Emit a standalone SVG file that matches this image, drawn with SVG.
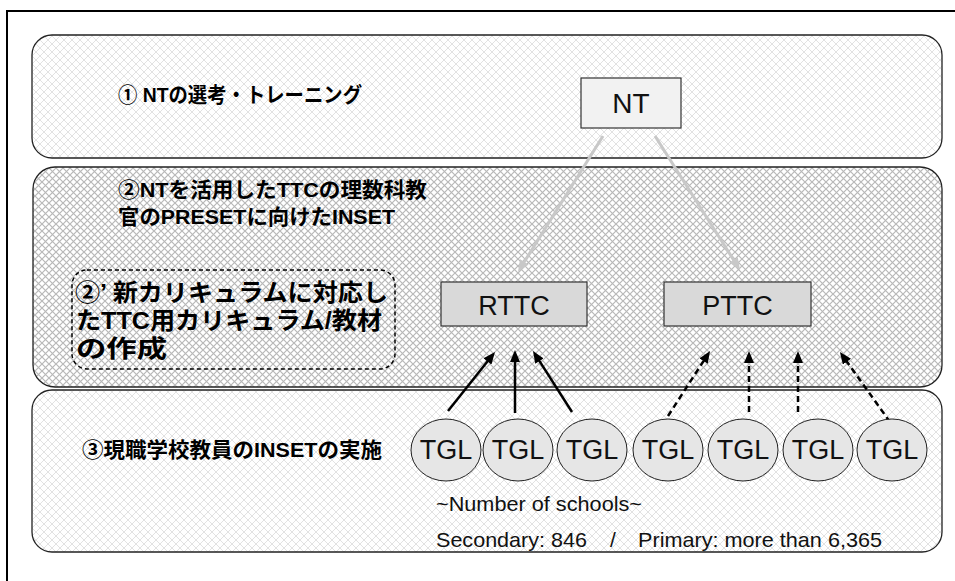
<svg xmlns="http://www.w3.org/2000/svg" width="955" height="581" viewBox="0 0 955 581">
<style>
.band{stroke:#222;stroke-width:1.3}
.jp{font-family:"Liberation Sans","Noto Sans CJK JP",sans-serif;font-weight:bold;fill:#000}
.lat{font-family:"Liberation Sans",Arial,sans-serif;fill:#111}
.rect{stroke:#333;stroke-width:1.2}
.tgl{fill:#e6e6e6;stroke:#222;stroke-width:1}
.solid{stroke:#000;stroke-width:2.5;fill:none;marker-end:url(#ab)}
.dash{stroke:#000;stroke-width:2.5;fill:none;stroke-dasharray:6 4;marker-end:url(#ab)}
.gray{stroke:#c8c8c8;stroke-width:3;fill:none;marker-end:url(#ag)}
</style>
<defs>
<pattern id="lt" width="8" height="8" patternUnits="userSpaceOnUse">
<rect width="8" height="8" fill="#fff"/>
<path d="M0,0 L8,8 M8,0 L0,8" stroke="#e2e2e2" stroke-width="1"/>
</pattern>
<pattern id="dk" width="7" height="7" patternUnits="userSpaceOnUse">
<rect width="7" height="7" fill="#fff"/>
<path d="M0,0 L7,7 M7,0 L0,7" stroke="#b8b8b8" stroke-width="1.2"/>
</pattern>
<marker id="ab" markerWidth="12" markerHeight="10" refX="4" refY="5" orient="auto" markerUnits="userSpaceOnUse">
<path d="M0,0 L12,5 L0,10 z" fill="#000"/>
</marker>
<marker id="ag" markerWidth="12" markerHeight="10" refX="4" refY="5" orient="auto" markerUnits="userSpaceOnUse">
<path d="M0,0 L12,5 L0,10 z" fill="#c8c8c8"/>
</marker>
</defs>
<rect width="955" height="581" fill="#fff"/>
<path d="M7,581 L7,11 L955,11" fill="none" stroke="#000" stroke-width="2"/>

<g id="band1">
<rect class="band" x="32" y="35" width="910" height="123" rx="20" fill="url(#lt)"/>
<text class="jp" x="118" y="102" font-size="21" textLength="244" lengthAdjust="spacingAndGlyphs">① NTの選考・トレーニング</text>
</g>
<g id="band2">
<rect class="band" x="33" y="167" width="909" height="220" rx="22" fill="url(#dk)"/>
<text class="jp" x="118" y="197" font-size="21" textLength="309" lengthAdjust="spacingAndGlyphs">②NTを活用したTTCの理数科教</text>
<text class="jp" x="118" y="224" font-size="21" textLength="277" lengthAdjust="spacingAndGlyphs">官のPRESETに向けたINSET</text>
</g>
<g id="band3">
<rect class="band" x="32" y="390" width="910" height="162" rx="20" fill="url(#lt)"/>
<text class="jp" x="82" y="457" font-size="21" textLength="300" lengthAdjust="spacingAndGlyphs">③現職学校教員のINSETの実施</text>
<text class="lat" x="436" y="511" font-size="21" textLength="206" lengthAdjust="spacingAndGlyphs">~Number of schools~</text>
<text class="lat" x="436" y="547" font-size="21" textLength="151" lengthAdjust="spacingAndGlyphs">Secondary: 846</text>
<text class="lat" x="610" y="547" font-size="21">/</text>
<text class="lat" x="638" y="547" font-size="21" textLength="244" lengthAdjust="spacingAndGlyphs">Primary: more than 6,365</text>
</g>
<g id="curriculum">
<rect x="72" y="270" width="323" height="99" rx="15" fill="none" stroke="#000" stroke-width="1.5" stroke-dasharray="4 3"/>
<text class="jp" x="75" y="301" font-size="24" textLength="313" lengthAdjust="spacingAndGlyphs">②’ 新カリキュラムに対応し</text>
<text class="jp" x="76" y="329" font-size="24" textLength="306" lengthAdjust="spacingAndGlyphs">たTTC用カリキュラム/教材</text>
<text class="jp" x="76" y="357" font-size="24" textLength="91" lengthAdjust="spacingAndGlyphs">の作成</text>
</g>

<g id="connectors">
<path class="gray" d="M603,136 L522.2,265.2"/>
<path class="gray" d="M655,136 L735.7,263.2"/>
<path class="solid" d="M448,411 L490,358.3"/>
<path class="solid" d="M515,413 L515,358"/>
<path class="solid" d="M572,412 L537.3,357.7"/>
<path class="dash" d="M668,416 L705.7,357.7"/>
<path class="dash" d="M749,412 L749,359"/>
<path class="dash" d="M798,412 L798,359"/>
<path class="dash" d="M890,422 L844.6,358.5"/>
</g>

<g id="NT">
<rect class="rect" x="581" y="78" width="100" height="50" fill="#f2f2f2"/>
<text class="lat" x="631" y="113" font-size="28" text-anchor="middle">NT</text>
</g>
<g id="RTTC">
<rect class="rect" x="441" y="282" width="146" height="44" fill="#d9d9d9"/>
<text class="lat" x="514" y="315" font-size="27" text-anchor="middle">RTTC</text>
</g>
<g id="PTTC">
<rect class="rect" x="664" y="282" width="147" height="44" fill="#d9d9d9"/>
<text class="lat" x="737.5" y="315" font-size="27" text-anchor="middle">PTTC</text>
</g>
<g id="TGL1"><ellipse class="tgl" cx="446" cy="450" rx="35" ry="31"/><text class="lat" x="446" y="459" font-size="27" text-anchor="middle">TGL</text></g>
<g id="TGL2"><ellipse class="tgl" cx="518" cy="450" rx="35" ry="31"/><text class="lat" x="518" y="459" font-size="27" text-anchor="middle">TGL</text></g>
<g id="TGL3"><ellipse class="tgl" cx="592" cy="450" rx="35" ry="31"/><text class="lat" x="592" y="459" font-size="27" text-anchor="middle">TGL</text></g>
<g id="TGL4"><ellipse class="tgl" cx="668" cy="450" rx="35" ry="31"/><text class="lat" x="668" y="459" font-size="27" text-anchor="middle">TGL</text></g>
<g id="TGL5"><ellipse class="tgl" cx="743" cy="450" rx="35" ry="31"/><text class="lat" x="743" y="459" font-size="27" text-anchor="middle">TGL</text></g>
<g id="TGL6"><ellipse class="tgl" cx="818" cy="450" rx="35" ry="31"/><text class="lat" x="818" y="459" font-size="27" text-anchor="middle">TGL</text></g>
<g id="TGL7"><ellipse class="tgl" cx="892" cy="450" rx="35" ry="31"/><text class="lat" x="892" y="459" font-size="27" text-anchor="middle">TGL</text></g>
</svg>
